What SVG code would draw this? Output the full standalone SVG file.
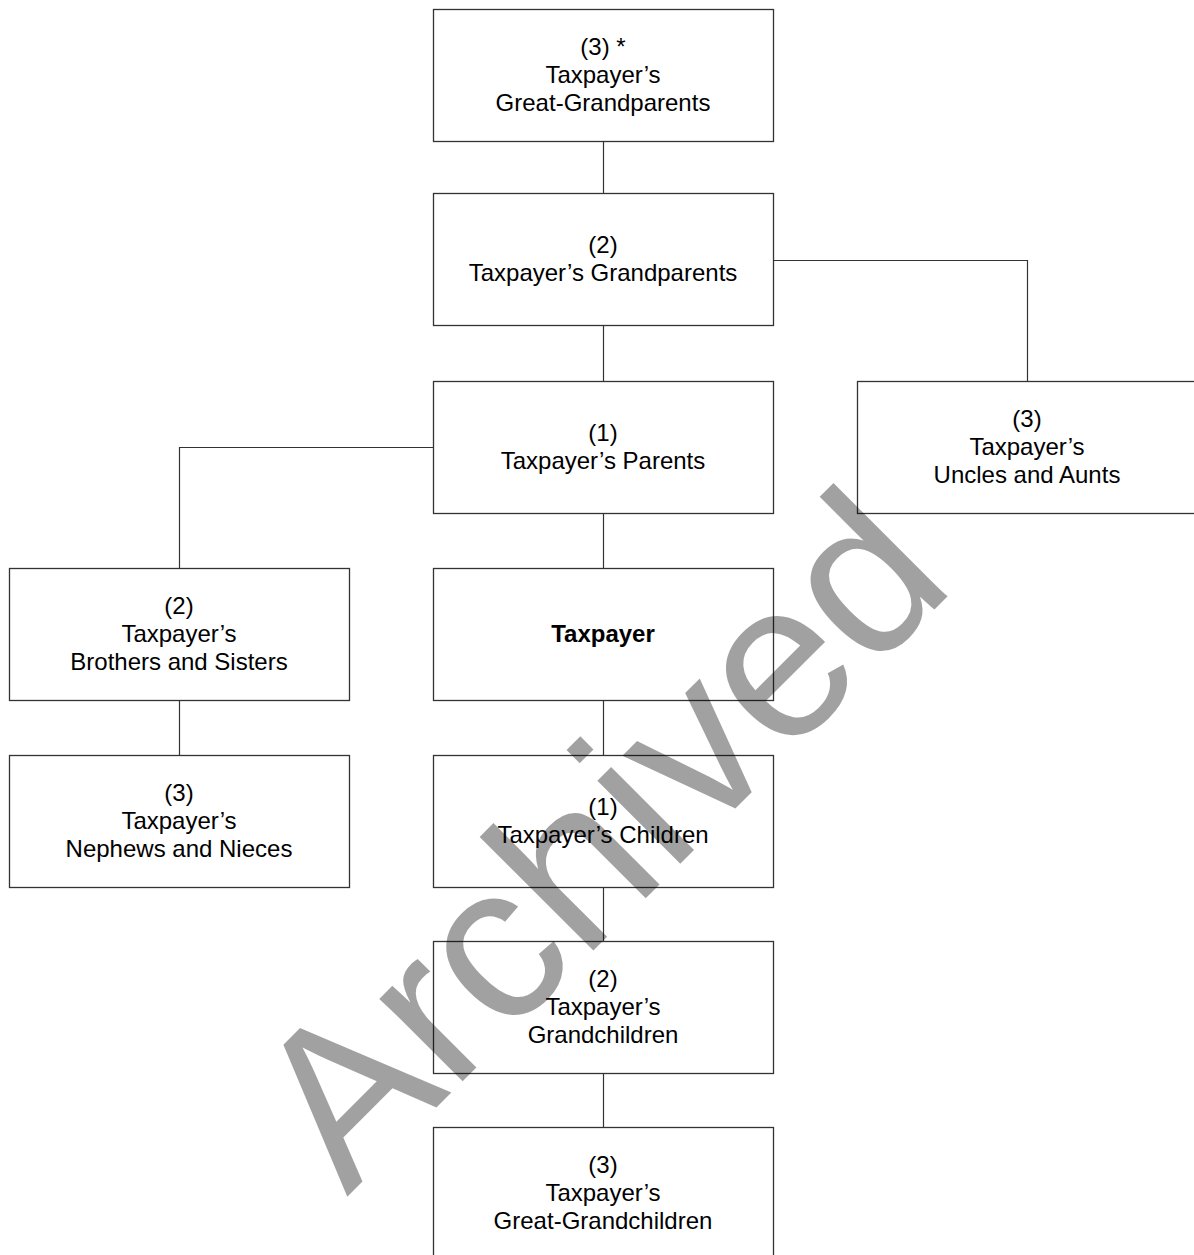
<svg xmlns="http://www.w3.org/2000/svg" width="1194" height="1255" viewBox="0 0 1194 1255">
<style>
.box{fill:#fff;stroke:#333;stroke-width:1.3}
.t{font-family:"Liberation Sans",Arial,sans-serif;font-size:24px;fill:#000;text-anchor:middle}
.b{font-weight:bold}
.c{fill:none;stroke:#333;stroke-width:1.2}
.wm{font-family:"Liberation Sans",Arial,sans-serif;font-size:222px;fill:#000;fill-opacity:0.37}
</style>
<rect width="1194" height="1255" fill="#fff"/>
<g id="connectors">
<path class="c" d="M603.5 141V193M603.5 325V381M603.5 513V568M603.5 700V755M603.5 887V941M603.5 1073V1127"/>
<path class="c" d="M773 260.5H1027.5V381"/>
<path class="c" d="M433 447.5H179.5V568M179.5 700V755"/>
</g>
<g id="great-grandparents"><rect class="box" x="433.5" y="9.5" width="340" height="132"/>
<text class="t"><tspan x="603" y="55">(3) *</tspan><tspan x="603" y="83">Taxpayer’s</tspan><tspan x="603" y="111">Great-Grandparents</tspan></text></g>
<g id="grandparents"><rect class="box" x="433.5" y="193.5" width="340" height="132"/>
<text class="t"><tspan x="603" y="253">(2)</tspan><tspan x="603" y="281">Taxpayer’s Grandparents</tspan></text></g>
<g id="parents"><rect class="box" x="433.5" y="381.5" width="340" height="132"/>
<text class="t"><tspan x="603" y="441">(1)</tspan><tspan x="603" y="469">Taxpayer’s Parents</tspan></text></g>
<g id="uncles"><rect class="box" x="857.5" y="381.5" width="345" height="132"/>
<text class="t"><tspan x="1027" y="427">(3)</tspan><tspan x="1027" y="455">Taxpayer’s</tspan><tspan x="1027" y="483">Uncles and Aunts</tspan></text></g>
<g id="siblings"><rect class="box" x="9.5" y="568.5" width="340" height="132"/>
<text class="t"><tspan x="179" y="614">(2)</tspan><tspan x="179" y="642">Taxpayer’s</tspan><tspan x="179" y="670">Brothers and Sisters</tspan></text></g>
<g id="taxpayer"><rect class="box" x="433.5" y="568.5" width="340" height="132"/>
<text class="t b" x="603" y="642">Taxpayer</text></g>
<g id="nephews"><rect class="box" x="9.5" y="755.5" width="340" height="132"/>
<text class="t"><tspan x="179" y="801">(3)</tspan><tspan x="179" y="829">Taxpayer’s</tspan><tspan x="179" y="857">Nephews and Nieces</tspan></text></g>
<g id="children"><rect class="box" x="433.5" y="755.5" width="340" height="132"/>
<text class="t"><tspan x="603" y="815">(1)</tspan><tspan x="603" y="843">Taxpayer’s Children</tspan></text></g>
<g id="grandchildren"><rect class="box" x="433.5" y="941.5" width="340" height="132"/>
<text class="t"><tspan x="603" y="987">(2)</tspan><tspan x="603" y="1015">Taxpayer’s</tspan><tspan x="603" y="1043">Grandchildren</tspan></text></g>
<g id="great-grandchildren"><rect class="box" x="433.5" y="1127.5" width="340" height="140"/>
<text class="t"><tspan x="603" y="1173">(3)</tspan><tspan x="603" y="1201">Taxpayer’s</tspan><tspan x="603" y="1229">Great-Grandchildren</tspan></text></g>
<text class="wm" transform="translate(347 1197) rotate(-45)">Archived</text>
</svg>
